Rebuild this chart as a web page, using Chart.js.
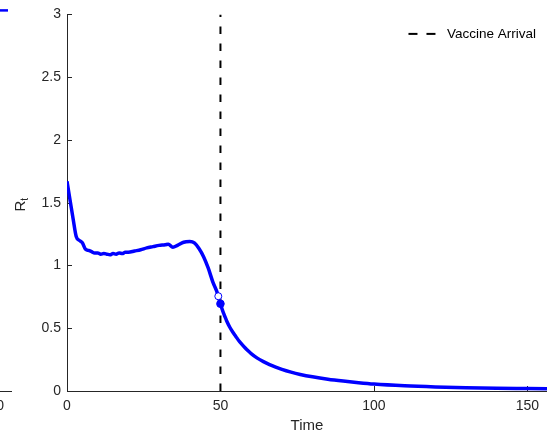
<!DOCTYPE html>
<html>
<head>
<meta charset="utf-8">
<script src="https://cdn.jsdelivr.net/npm/chart.js@4.4.0/dist/chart.umd.min.js"></script>
<style>
  html, body { margin: 0; padding: 0; background: #fff; }
  #wrap { position: relative; width: 547px; height: 437px; overflow: hidden; }
  #wrap canvas { position: absolute; top: 0; }
  #mainChart { left: 0; }
  #sideChart { left: -535px; }
</style>
</head>
<body>
<div id="wrap">
  <canvas id="sideChart" width="547" height="437"></canvas>
  <canvas id="mainChart" width="547" height="437"></canvas>
</div>
<script>
// --- Data ---
const timeDays = [0, 1, 2, 3, 4, 5, 6, 7, 8, 9, 10, 11, 12, 13, 14, 15, 16, 17, 18, 19, 20,
                  22, 24, 26, 28, 30, 32, 33, 34.5, 36, 38, 40, 41.5, 43, 44.5, 46, 47.5, 49,
                  50, 50.5, 51, 51.5, 52, 53, 54, 55, 56, 57, 58, 59, 60, 62, 64, 66, 68, 70,
                  73, 76, 80, 85, 90, 95, 100, 110, 120, 130, 140, 150, 156.4];
const rtValues = [1.67, 1.52, 1.37, 1.23, 1.20, 1.18, 1.13, 1.12, 1.11, 1.10, 1.10, 1.09, 1.095, 1.09, 1.085, 1.095, 1.09, 1.10, 1.095, 1.105, 1.105,
                  1.115, 1.125, 1.14, 1.15, 1.16, 1.165, 1.17, 1.145, 1.16, 1.185, 1.19, 1.18, 1.135, 1.07, 0.98, 0.87, 0.78,
                  0.695, 0.655, 0.62, 0.59, 0.56, 0.51, 0.47, 0.435, 0.40, 0.372, 0.345, 0.32, 0.298, 0.262, 0.234, 0.21, 0.19, 0.172,
                  0.15, 0.132, 0.113, 0.094, 0.079, 0.066, 0.055, 0.041, 0.032, 0.026, 0.022, 0.019, 0.017];

const vaccineDay = 50;
const vaccineSpan = [0, 3];           // the dashed line runs over the full y range
const markerBefore = [49.3, 0.755];   // open circle  [t, R]
const markerAfter = [50, 0.695];      // filled circle [t, R]

const xTicks = [0, 50, 100, 150];
const yTicks = [0, 0.5, 1, 1.5, 2, 2.5, 3];
const X_MAX = 156.4;
const Y_MAX = 3;

// --- Style ---
const AXIS_COLOR = '#262626';
const FONT = '"Liberation Sans", Arial, Helvetica, sans-serif';
const BLUE = '#0000ff';

function buildScales(withTitle) {
    return {
        x: {
            type: 'linear',
            min: 0,
            max: X_MAX,
            afterBuildTicks: (s) => { s.ticks = xTicks.map(v => ({ value: v })); },
            afterFit: (s) => { s.height = 46; s.paddingLeft = 0; s.paddingRight = 0; },
            grid: { display: false, drawTicks: false },
            border: { display: true, color: AXIS_COLOR, width: 1 },
            ticks: { color: AXIS_COLOR, font: { family: FONT, size: 14 }, padding: 7, maxRotation: 0, autoSkip: false,
                     callback: (v) => String(v) },
            title: { display: withTitle, text: 'Time', color: AXIS_COLOR, font: { family: FONT, size: 15 }, padding: { top: 0, bottom: 2 } }
        },
        y: {
            type: 'linear',
            min: 0,
            max: Y_MAX,
            afterBuildTicks: (s) => { s.ticks = yTicks.map(v => ({ value: v })); },
            afterFit: (s) => { s.width = 67; },
            grid: { display: false, drawTicks: false },
            border: { display: true, color: AXIS_COLOR, width: 1 },
            ticks: { color: AXIS_COLOR, font: { family: FONT, size: 14 }, padding: 6, autoSkip: false,
                     callback: (v) => String(v) }
        }
    };
}

// MATLAB style ticks, pointing into the axes
const inwardTicks = {
    id: 'inwardTicks',
    beforeDatasetsDraw(chart) {
        const { ctx, chartArea, scales: { x, y } } = chart;
        ctx.save();
        ctx.strokeStyle = AXIS_COLOR;
        ctx.lineWidth = 1;
        ctx.beginPath();
        xTicks.forEach(v => {
            const px = Math.round(x.getPixelForValue(v)) + 0.5;
            ctx.moveTo(px, chartArea.bottom);
            ctx.lineTo(px, chartArea.bottom - 5);
        });
        yTicks.forEach(v => {
            const py = Math.round(y.getPixelForValue(v)) + 0.5;
            ctx.moveTo(chartArea.left, py);
            ctx.lineTo(chartArea.left + 5, py);
        });
        ctx.stroke();
        ctx.restore();
    }
};

// y axis label R with subscript t
const rtTitle = {
    id: 'rtTitle',
    afterDraw(chart) {
        const { ctx, chartArea } = chart;
        const cy = (chartArea.top + chartArea.bottom) / 2 + 2;
        ctx.save();
        ctx.translate(25, cy);
        ctx.rotate(-Math.PI / 2);
        ctx.fillStyle = AXIS_COLOR;
        ctx.textBaseline = 'alphabetic';
        ctx.font = '15px ' + FONT;
        const rw = ctx.measureText('R').width;
        ctx.font = '10px ' + FONT;
        const tw = ctx.measureText('t').width;
        const start = -(rw + tw) / 2;
        ctx.font = '15px ' + FONT;
        ctx.fillText('R', start, 0);
        ctx.font = '10px ' + FONT;
        ctx.fillText('t', start + rw, 2.5);
        ctx.restore();
    }
};

// legend box in the top right corner, only for the vaccine line
const cornerLegend = {
    id: 'cornerLegend',
    afterDraw(chart) {
        const { ctx, chartArea } = chart;
        const ds = chart.data.datasets[0];
        ctx.save();
        ctx.font = '13.5px ' + FONT;
        const textEnd = chartArea.right - 11;
        const textStart = textEnd - ctx.measureText(ds.label).width;
        const lineEnd = textStart - 11.5;
        const y = chartArea.top + 19.5;
        ctx.strokeStyle = ds.borderColor;
        ctx.lineWidth = ds.borderWidth;
        ctx.setLineDash([9, 9]);
        ctx.beginPath();
        ctx.moveTo(lineEnd - 27, y);
        ctx.lineTo(lineEnd, y);
        ctx.stroke();
        ctx.fillStyle = '#000000';
        ctx.textBaseline = 'middle';
        ctx.fillText(ds.label, textStart, y);
        ctx.restore();
    }
};

// the neighbouring subplot's legend runs past its axes; only the end of its blue sample shows
const sideLegendStub = {
    id: 'sideLegendStub',
    afterDraw(chart) {
        const { ctx, chartArea } = chart;
        ctx.save();
        ctx.strokeStyle = BLUE;
        ctx.lineWidth = 2.5;
        ctx.beginPath();
        ctx.moveTo(chartArea.right - 30, chartArea.top - 4);
        ctx.lineTo(chartArea.right - 4, chartArea.top - 4);
        ctx.stroke();
        ctx.restore();
    }
};

// --- Main chart ---
const curvePoints = timeDays.map((t, i) => ({ x: t, y: rtValues[i] }));
const vaccinePoints = vaccineSpan.map(v => ({ x: vaccineDay, y: v }));

new Chart(document.getElementById('mainChart'), {
    type: 'line',
    data: {
        datasets: [{
            label: 'Vaccine Arrival',
            data: vaccinePoints,
            borderColor: '#000000',
            borderWidth: 2,
            borderDash: [7.5, 9.5],
            pointRadius: 0,
            order: 1
        }, {
            label: 'Rt',
            data: curvePoints,
            borderColor: BLUE,
            borderWidth: 3.5,
            pointRadius: 0,
            cubicInterpolationMode: 'monotone',
            order: 2
        }, {
            label: 'before',
            data: [{ x: markerBefore[0], y: markerBefore[1] }],
            showLine: false,
            pointRadius: 3.5,
            pointBackgroundColor: '#ffffff',
            pointBorderColor: BLUE,
            pointBorderWidth: 1,
            order: 0
        }, {
            label: 'after',
            data: [{ x: markerAfter[0], y: markerAfter[1] }],
            showLine: false,
            pointRadius: 3.8,
            pointBackgroundColor: BLUE,
            pointBorderColor: BLUE,
            pointBorderWidth: 1,
            order: 0
        }]
    },
    options: {
        responsive: false,
        animation: false,
        layout: { autoPadding: false, padding: { top: 12, right: 0, bottom: 0, left: 0 } },
        scales: buildScales(true),
        plugins: {
            tooltip: { enabled: false },
            legend: { display: false }
        }
    },
    plugins: [inwardTicks, rtTitle, cornerLegend]
});

// --- Neighbouring subplot, only its right edge is visible ---
new Chart(document.getElementById('sideChart'), {
    type: 'line',
    data: { datasets: [] },
    options: {
        responsive: false,
        animation: false,
        layout: { autoPadding: false, padding: { top: 12, right: 0, bottom: 0, left: 0 } },
        scales: buildScales(false),
        plugins: { legend: { display: false }, tooltip: { enabled: false } }
    },
    plugins: [sideLegendStub]
});
</script>
</body>
</html>
